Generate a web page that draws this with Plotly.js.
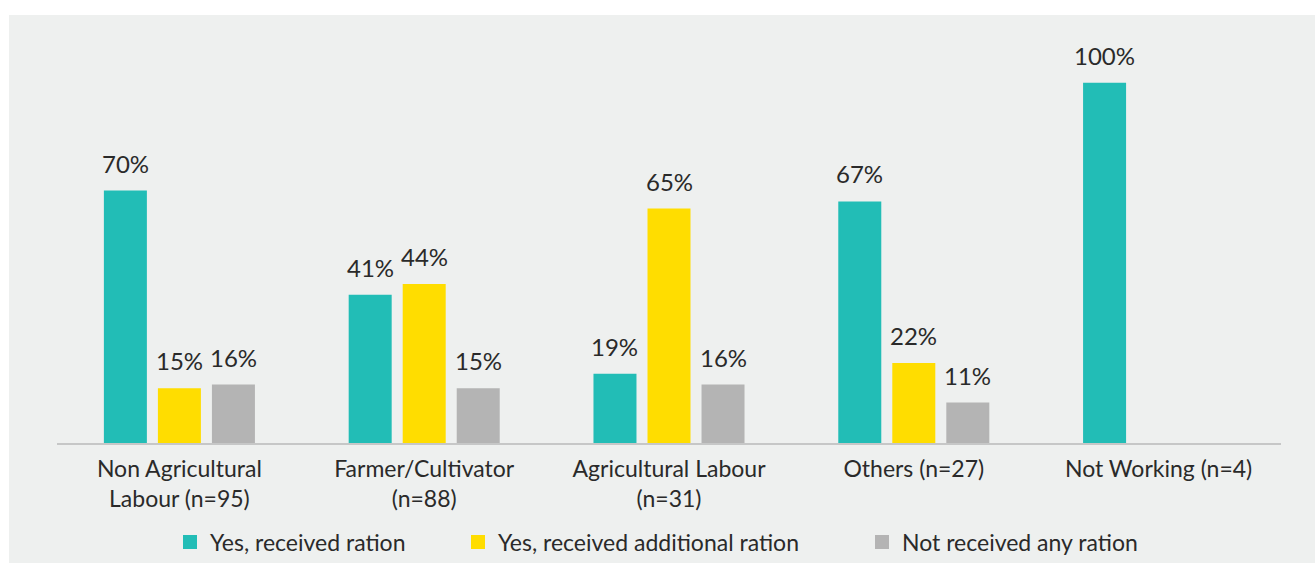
<!DOCTYPE html>
<html>
<head>
<meta charset="utf-8">
<script src="https://cdn.plot.ly/plotly-3.0.1.min.js"></script>
<style>
  html, body { margin: 0; padding: 0; background: #ffffff; }
  #chart { width: 1315px; height: 563px; }
</style>
</head>
<body>
<div id="chart"></div>
<script>
// ---- Data ----
const categories = [
  'Non Agricultural<br>Labour (n=95)',
  'Farmer/Cultivator<br>(n=88)',
  'Agricultural Labour<br>(n=31)',
  'Others (n=27)',
  'Not Working (n=4)'
];
const seriesNames = ['Yes, received ration', 'Yes, received additional ration', 'Not received any ration'];
const receivedRation   = [70, 41, 19, 67, 100];
const additionalRation = [15, 44, 65, 22, null];
const notReceived      = [16, 15, 16, 11, null];

// ---- Styling ----
const W = 1315, H = 563;
const colors = ['#22BDB6', '#FFDD00', '#B4B4B4'];
const FONT = 'Lato, "Open Sans", sans-serif';
const TEXT = '#2a2a2a';
const margin = {l: 57, r: 34, t: 30, b: 120};
const bargap = 0.338, bargroupgap = 0.241;
const plotW = W - margin.l - margin.r;
const plotH = H - margin.t - margin.b;
const slotPx = plotW / categories.length * (1 - bargap) / 3;

const seriesValues = [receivedRation, additionalRation, notReceived];
const legendIds = ['legend', 'legend2', 'legend3'];

const traces = seriesValues.map((vals, i) => ({
  type: 'bar',
  name: seriesNames[i],
  x: categories,
  y: vals,
  marker: {color: colors[i], line: {width: 2, color: colors[i]}},
  legend: legendIds[i],
  hoverinfo: 'skip'
}));

const annotations = [];
seriesValues.forEach((vals, i) => {
  vals.forEach((v, j) => {
    if (v === null || v === undefined) return;
    annotations.push({
      x: categories[j], y: v, xref: 'x', yref: 'y',
      text: v + '%', showarrow: false,
      xanchor: 'center', yanchor: 'bottom',
      xshift: (i - 1) * slotPx, yshift: 12,
      font: {family: FONT, size: 24, color: TEXT}
    });
  });
});

// panel background (light grey card with white strip above / left)
const px2x = p => (p - margin.l) / plotW;
const py2y = p => (H - margin.b - p) / plotH;
const shapes = [{
  type: 'rect', xref: 'paper', yref: 'paper', layer: 'below',
  x0: px2x(9), x1: px2x(W + 5), y0: py2y(H + 5), y1: py2y(15),
  fillcolor: '#EEF0EF', line: {width: 0}
}];

const legendBase = {
  orientation: 'h', xref: 'container', yref: 'container',
  yanchor: 'middle', xanchor: 'left', bgcolor: 'rgba(0,0,0,0)',
  font: {family: FONT, size: 23, color: TEXT}, itemclick: false, itemdoubleclick: false
};

const layout = {
  width: W, height: H,
  margin: margin,
  paper_bgcolor: '#ffffff',
  plot_bgcolor: 'rgba(0,0,0,0)',
  barmode: 'group',
  bargap: bargap, bargroupgap: bargroupgap,
  font: {family: FONT, color: TEXT},
  xaxis: {
    type: 'category',
    showline: true, linecolor: '#C6C7C7', linewidth: 2,
    ticks: '', showgrid: false, zeroline: false,
    tickfont: {family: FONT, size: 23, color: TEXT},
    ticklabelstandoff: 4
  },
  yaxis: {
    range: [0, 115], visible: false, showgrid: false, zeroline: false, fixedrange: true
  },
  legend:  Object.assign({}, legendBase, {x: 170 / W, y: 1 - 542 / H}),
  legend2: Object.assign({}, legendBase, {x: 458 / W, y: 1 - 542 / H}),
  legend3: Object.assign({}, legendBase, {x: 862 / W, y: 1 - 542 / H}),
  showlegend: true,
  annotations: annotations,
  shapes: shapes
};

Plotly.newPlot('chart', traces, layout, {displayModeBar: false, staticPlot: true});
</script>
</body>
</html>
